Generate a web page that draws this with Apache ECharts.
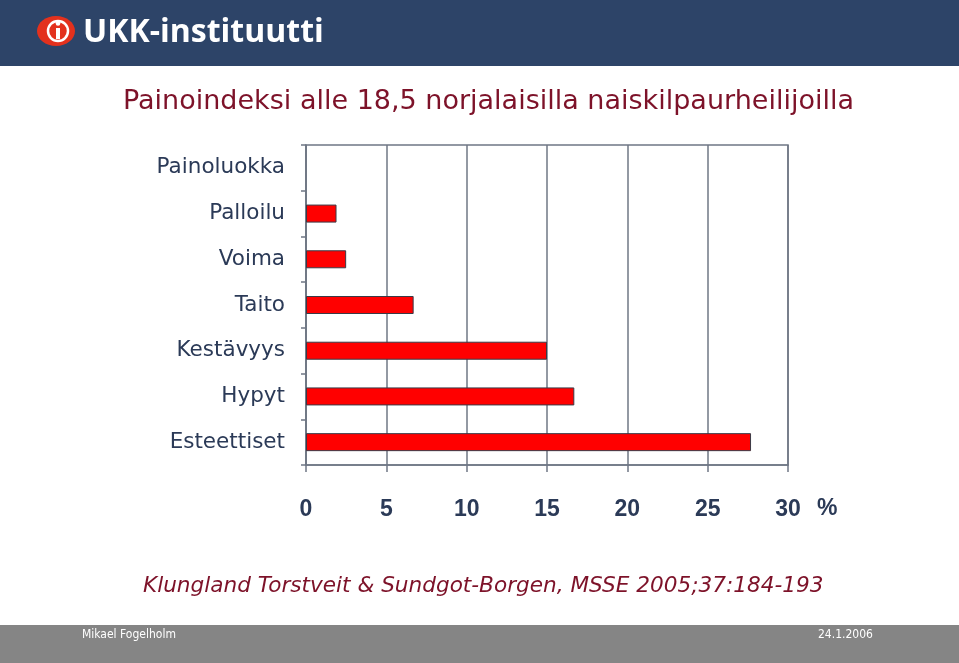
<!DOCTYPE html>
<html><head><meta charset="utf-8">
<script src="https://cdn.jsdelivr.net/npm/echarts@6/dist/echarts.min.js"></script>
<style>html,body{margin:0;padding:0;background:#fff}#c{width:959px;height:663px}</style>
</head><body><div id="c"></div>
<script>
const categories = ['Painoluokka','Palloilu','Voima','Taito','Kestävyys','Hypyt','Esteettiset'];
const values = [null, 1.9, 2.5, 6.7, 15.0, 16.7, 27.7];
const xTicks = [0, 5, 10, 15, 20, 25, 30];

const chart = echarts.init(document.getElementById('c'), null, {renderer:'canvas'});
const axisColor = '#6f7785';
const labelColor = '#2b3a57';
const maroon = '#7d1229';
chart.setOption({
  animation:false,
  backgroundColor:'#ffffff',
  grid:{left:306, right:171, top:145, bottom:198, show:true, borderColor:axisColor, borderWidth:1.5, backgroundColor:'transparent'},
  xAxis:{type:'value', min:xTicks[0], max:xTicks[xTicks.length-1], interval:5,
    axisLine:{show:true, lineStyle:{color:axisColor, width:1.5}},
    axisTick:{show:true, length:7, lineStyle:{color:axisColor, width:1.5}},
    splitLine:{show:true, lineStyle:{color:axisColor, width:1.5}},
    axisLabel:{color:labelColor, fontFamily:'Liberation Sans', fontWeight:'bold', fontSize:23, margin:33}
  },
  yAxis:{type:'category', data:categories, inverse:true,
    axisLine:{show:true, lineStyle:{color:axisColor, width:1.5}},
    axisTick:{show:true, length:5, lineStyle:{color:axisColor, width:1.5}},
    axisLabel:{color:labelColor, fontFamily:'DejaVu Sans', fontSize:21.5, margin:21}
  },
  series:[{type:'bar', data:values, barWidth:18,
    itemStyle:{color:'#ff0000', borderColor:'#3a3a46', borderWidth:1}}],
  graphic:[
    {type:'rect', shape:{x:0,y:0,width:959,height:66}, style:{fill:'#2d4468'}, silent:true},
    {type:'ellipse', shape:{cx:56,cy:31,rx:19,ry:15}, style:{fill:'#e3311d'}},
    {type:'circle', shape:{cx:58,cy:31,r:10}, style:{fill:'#e3311d', stroke:'#ffffff', lineWidth:2.5}},
    {type:'rect', shape:{x:56,y:28,width:4,height:11}, style:{fill:'#ffffff'}},
    {type:'circle', shape:{cx:58,cy:23.5,r:2.3}, style:{fill:'#ffffff'}},
    {type:'text', left:83, top:17, style:{text:'UKK-instituutti', fill:'#ffffff', font:'bold 32px "Open Sans"'}},
    {type:'text', left:123, top:88, style:{text:'Painoindeksi alle 18,5 norjalaisilla naiskilpaurheilijoilla', fill:maroon, font:'27px "DejaVu Sans"'}},
    {type:'text', left:817, top:497, style:{text:'%', fill:labelColor, font:'bold 23px "Liberation Sans"'}},
    {type:'text', left:143, top:575, style:{text:'Klungland Torstveit & Sundgot-Borgen, MSSE 2005;37:184-193', fill:maroon, font:'italic 21.6px "DejaVu Sans"'}},
    {type:'rect', shape:{x:0,y:625,width:959,height:38}, style:{fill:'#858585'}, silent:true},
    {type:'text', left:82, top:629, style:{text:'Mikael Fogelholm', fill:'#ffffff', font:'12px "DejaVu Sans Condensed"'}},
    {type:'text', left:818, top:629, style:{text:'24.1.2006', fill:'#ffffff', font:'12px "DejaVu Sans Condensed"'}}
  ]
});
</script></body></html>
